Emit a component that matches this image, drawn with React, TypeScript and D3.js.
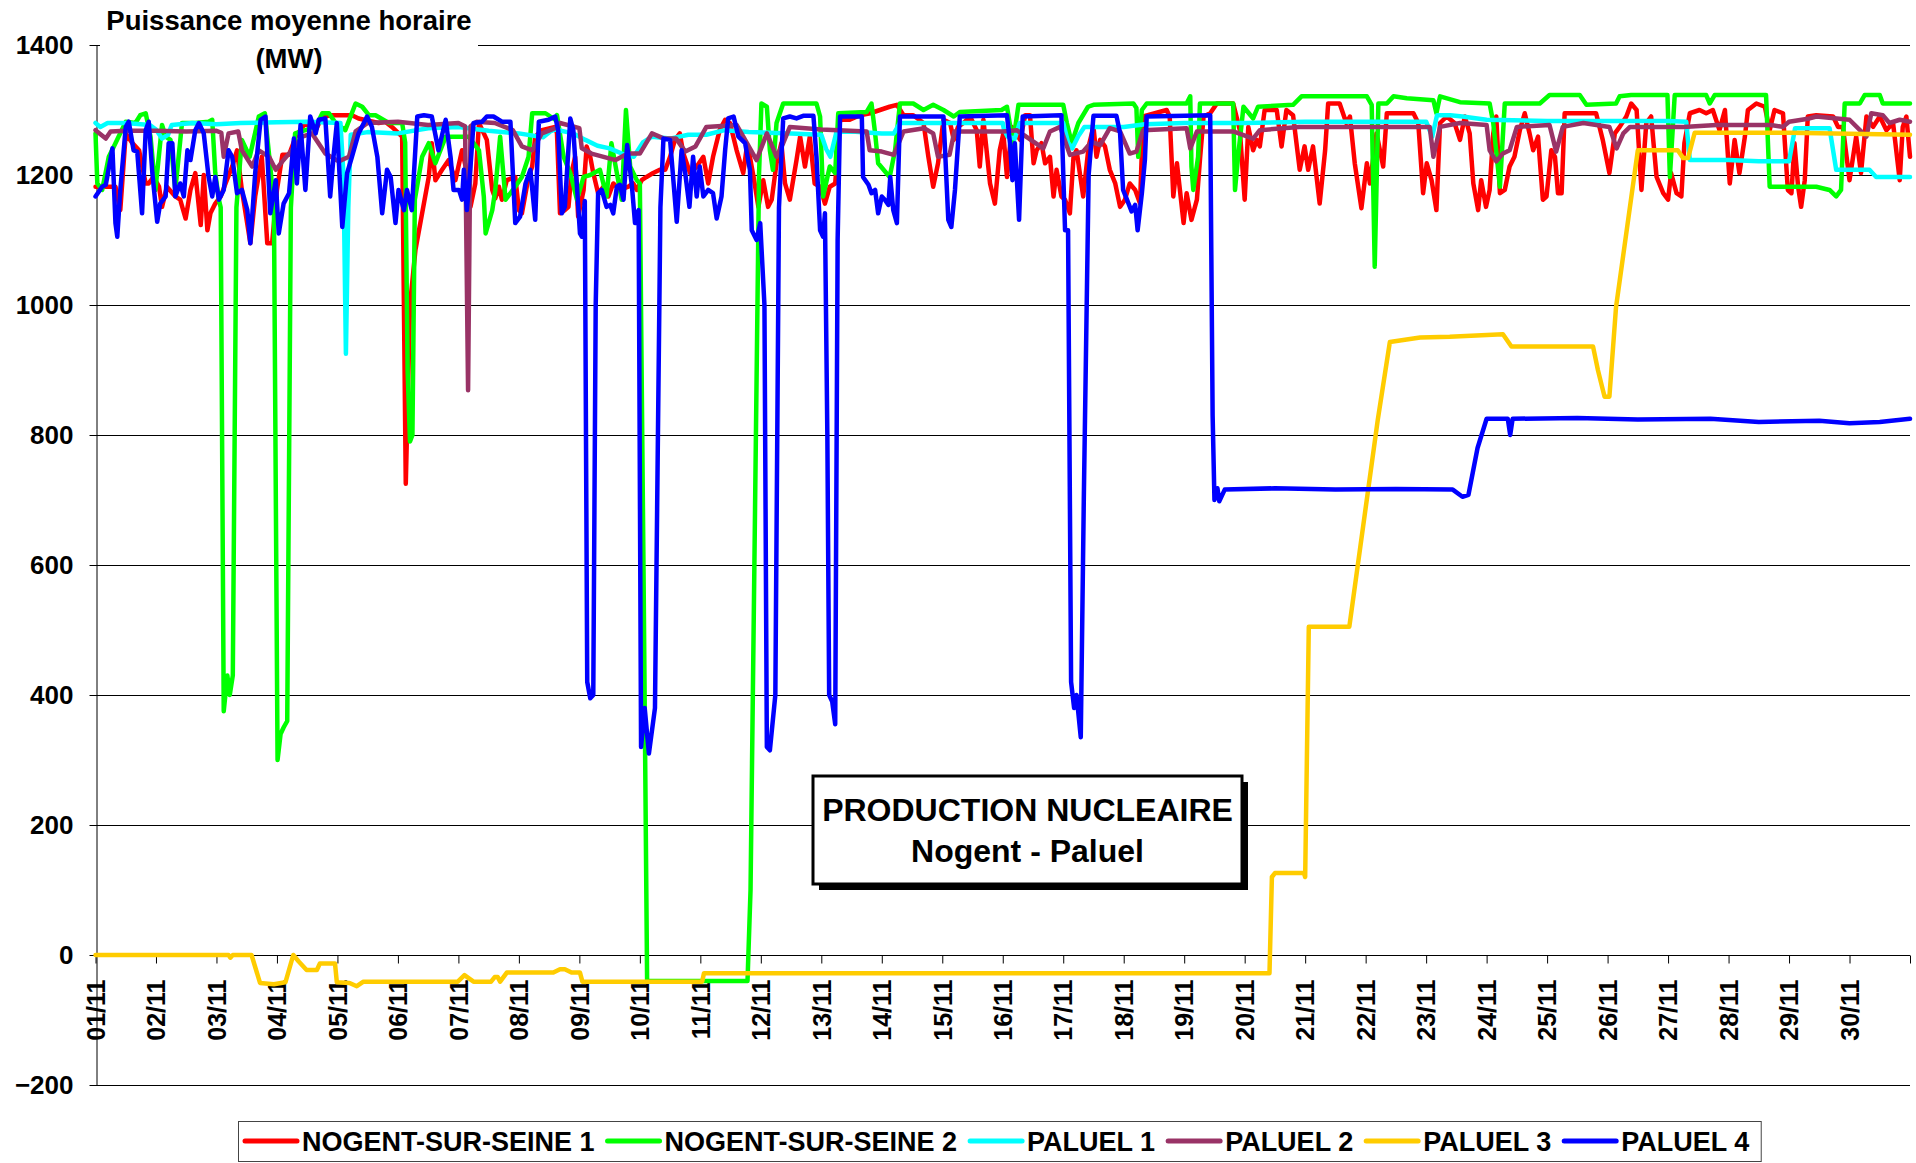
import React, { useEffect, useRef } from 'react';
import * as d3 from 'd3';

type Pt = [number, number];

// day labels (tick at start of each day of November)
const dayLabels = [
  '01/11', '02/11', '03/11', '04/11', '05/11', '06/11', '07/11', '08/11', '09/11', '10/11',
  '11/11', '12/11', '13/11', '14/11', '15/11', '16/11', '17/11', '18/11', '19/11', '20/11',
  '21/11', '22/11', '23/11', '24/11', '25/11', '26/11', '27/11', '28/11', '29/11', '30/11',
];
const yTicks = [-200, 0, 200, 400, 600, 800, 1000, 1200, 1400];

const seriesNames = ['NOGENT-SUR-SEINE 1', 'NOGENT-SUR-SEINE 2', 'PALUEL 1', 'PALUEL 2', 'PALUEL 3', 'PALUEL 4'];
const seriesColors = ['#ff0000', '#00ff00', '#00ffff', '#993366', '#ffcc00', '#0000ff'];

// [day since 01/11 00h, MW]
const nogent1: Pt[] = [
  [0, 1182], [0.11, 1182], [0.33, 1182], [0.41, 1146], [0.5, 1264], [0.61, 1249], [0.72, 1238], [0.83, 1187], [0.88, 1187], [0.96, 1197],
  [1.05, 1182], [1.1, 1151], [1.18, 1182], [1.32, 1167], [1.4, 1162], [1.49, 1133], [1.57, 1177], [1.65, 1203], [1.74, 1123], [1.79, 1200],
  [1.85, 1115], [1.9, 1141], [1.98, 1156], [2.07, 1167], [2.15, 1187], [2.26, 1213], [2.34, 1238], [2.42, 1177], [2.56, 1095], [2.64, 1167],
  [2.75, 1228], [2.84, 1095], [2.92, 1095], [3.0, 1177], [3.09, 1231], [3.2, 1231], [3.31, 1259], [3.47, 1280], [3.64, 1269], [3.75, 1290],
  [3.91, 1292], [4.24, 1292], [4.35, 1287], [4.68, 1280], [4.79, 1282], [4.9, 1274], [5.07, 1259], [5.13, 725], [5.2, 1000], [5.29, 1085],
  [5.51, 1197], [5.56, 1249], [5.62, 1192], [5.73, 1208], [5.84, 1223], [5.95, 1192], [6.06, 1238], [6.12, 1213], [6.2, 1151], [6.28, 1187],
  [6.34, 1280], [6.47, 1254], [6.56, 1177], [6.61, 1164], [6.67, 1182], [6.72, 1162], [6.8, 1192], [6.94, 1197], [7.0, 1146], [7.05, 1141],
  [7.16, 1197], [7.22, 1213], [7.27, 1259], [7.38, 1269], [7.6, 1274], [7.63, 1264], [7.68, 1141], [7.76, 1146], [7.82, 1151], [7.87, 1203],
  [7.93, 1228], [7.98, 1136], [8.07, 1177], [8.12, 1244], [8.18, 1228], [8.23, 1203], [8.31, 1172], [8.4, 1182], [8.48, 1167], [8.56, 1187],
  [8.67, 1177], [8.81, 1182], [8.89, 1187], [8.95, 1177], [9.03, 1192], [9.11, 1197], [9.22, 1203], [9.33, 1208], [9.42, 1208], [9.5, 1228],
  [9.58, 1254], [9.66, 1264], [9.72, 1233], [9.83, 1203], [9.94, 1213], [10.05, 1228], [10.13, 1187], [10.21, 1228], [10.32, 1269], [10.41, 1285],
  [10.49, 1280], [10.6, 1238], [10.71, 1203], [10.77, 1244], [10.82, 1228], [10.88, 1197], [10.96, 1151], [11.04, 1192], [11.12, 1151], [11.18, 1162],
  [11.26, 1218], [11.34, 1249], [11.4, 1187], [11.48, 1162], [11.59, 1223], [11.65, 1259], [11.73, 1213], [11.81, 1259], [11.89, 1187], [11.98, 1182],
  [12.06, 1156], [12.14, 1182], [12.23, 1187], [12.31, 1285], [12.47, 1285], [12.64, 1292], [12.81, 1295], [12.97, 1300], [13.13, 1305], [13.25, 1308],
  [13.36, 1292], [13.52, 1292], [13.69, 1280], [13.77, 1228], [13.85, 1182], [13.93, 1218], [14.02, 1285], [14.13, 1280], [14.19, 1254], [14.26, 1274],
  [14.35, 1280], [14.46, 1290], [14.57, 1269], [14.62, 1213], [14.68, 1285], [14.79, 1187], [14.87, 1156], [14.95, 1238], [15.01, 1264], [15.07, 1197],
  [15.15, 1274], [15.29, 1254], [15.37, 1292], [15.45, 1292], [15.51, 1218], [15.56, 1238], [15.64, 1249], [15.7, 1218], [15.78, 1228], [15.84, 1167],
  [15.89, 1208], [15.97, 1167], [16.03, 1162], [16.11, 1141], [16.17, 1228], [16.22, 1238], [16.33, 1167], [16.42, 1244], [16.5, 1274], [16.55, 1228],
  [16.61, 1254], [16.69, 1244], [16.77, 1208], [16.86, 1187], [16.94, 1151], [17.02, 1162], [17.1, 1187], [17.19, 1177], [17.27, 1156], [17.32, 1290],
  [17.71, 1300], [17.76, 1290], [17.82, 1167], [17.88, 1218], [17.99, 1126], [18.04, 1172], [18.12, 1131], [18.21, 1162], [18.26, 1223], [18.32, 1290],
  [18.43, 1295], [18.54, 1310], [18.81, 1310], [18.92, 1269], [19.0, 1162], [19.06, 1274], [19.14, 1238], [19.2, 1254], [19.25, 1244], [19.33, 1300],
  [19.53, 1300], [19.61, 1244], [19.69, 1300], [19.8, 1292], [19.91, 1208], [19.99, 1244], [20.05, 1208], [20.13, 1244], [20.24, 1156], [20.33, 1238],
  [20.38, 1310], [20.57, 1310], [20.68, 1280], [20.74, 1290], [20.82, 1218], [20.93, 1149], [21.02, 1218], [21.07, 1187], [21.18, 1264], [21.29, 1213],
  [21.35, 1295], [21.79, 1295], [21.87, 1280], [21.95, 1172], [22.01, 1218], [22.09, 1192], [22.17, 1146], [22.23, 1280], [22.34, 1290], [22.47, 1280],
  [22.56, 1254], [22.64, 1290], [22.72, 1264], [22.78, 1187], [22.86, 1146], [22.91, 1192], [22.99, 1151], [23.05, 1177], [23.11, 1264], [23.16, 1290],
  [23.22, 1172], [23.3, 1177], [23.38, 1213], [23.46, 1228], [23.55, 1269], [23.63, 1295], [23.71, 1264], [23.77, 1238], [23.85, 1259], [23.93, 1162],
  [23.99, 1167], [24.07, 1238], [24.13, 1228], [24.18, 1172], [24.24, 1172], [24.29, 1295], [24.81, 1295], [24.92, 1254], [25.03, 1203], [25.12, 1264],
  [25.2, 1274], [25.31, 1290], [25.39, 1310], [25.48, 1300], [25.56, 1177], [25.64, 1280], [25.72, 1290], [25.81, 1197], [25.92, 1172], [26.0, 1162],
  [26.05, 1203], [26.14, 1172], [26.22, 1167], [26.27, 1249], [26.36, 1295], [26.52, 1300], [26.63, 1295], [26.74, 1300], [26.85, 1269], [26.94, 1300],
  [27.02, 1187], [27.1, 1254], [27.18, 1203], [27.27, 1259], [27.32, 1300], [27.46, 1310], [27.6, 1305], [27.68, 1269], [27.76, 1300], [27.9, 1295],
  [27.98, 1177], [28.04, 1172], [28.09, 1249], [28.15, 1182], [28.2, 1151], [28.26, 1192], [28.31, 1290], [28.45, 1292], [28.73, 1290], [28.81, 1274],
  [28.89, 1274], [29.0, 1192], [29.11, 1259], [29.19, 1203], [29.28, 1290], [29.39, 1274], [29.5, 1290], [29.61, 1269], [29.72, 1280], [29.83, 1192],
  [29.88, 1274], [29.94, 1290], [30, 1228],
];

const nogent2: Pt[] = [
  [0, 1264], [0.03, 1187], [0.11, 1177], [0.22, 1228], [0.33, 1249], [0.5, 1282], [0.66, 1280], [0.74, 1292], [0.83, 1295], [0.91, 1259],
  [0.99, 1177], [1.1, 1277], [1.16, 1259], [1.24, 1254], [1.32, 1177], [1.43, 1280], [1.65, 1280], [1.87, 1282], [1.93, 1285], [1.98, 1203],
  [2.04, 1162], [2.07, 1150], [2.12, 375], [2.18, 430], [2.22, 400], [2.27, 430], [2.33, 1150], [2.42, 1254], [2.55, 1228], [2.7, 1290],
  [2.8, 1295], [2.9, 1203], [2.95, 1150], [3.01, 300], [3.06, 340], [3.11, 350], [3.17, 360], [3.23, 1150], [3.3, 1264], [3.47, 1269],
  [3.64, 1274], [3.75, 1295], [3.86, 1295], [3.97, 1280], [4.13, 1269], [4.3, 1310], [4.41, 1305], [4.52, 1292], [4.63, 1292], [4.85, 1280],
  [5.07, 1280], [5.12, 1250], [5.16, 900], [5.2, 790], [5.24, 800], [5.28, 1162], [5.4, 1228], [5.51, 1249], [5.62, 1218], [5.79, 1259],
  [6.06, 1259], [6.17, 1259], [6.34, 1238], [6.42, 1167], [6.45, 1110], [6.56, 1146], [6.61, 1177], [6.69, 1259], [6.78, 1162], [6.94, 1182],
  [7.05, 1197], [7.16, 1228], [7.22, 1295], [7.44, 1295], [7.6, 1285], [7.63, 1292], [7.74, 1228], [7.85, 1203], [7.96, 1162], [8.07, 1197],
  [8.18, 1200], [8.34, 1208], [8.45, 1167], [8.53, 1249], [8.62, 1203], [8.7, 1162], [8.77, 1300], [8.84, 1213], [8.95, 1192], [9.0, 1187],
  [9.06, 600], [9.12, -40], [10.78, -40], [10.83, 100], [10.97, 1200], [11.01, 1310], [11.1, 1305], [11.15, 1238], [11.2, 1208], [11.26, 1280],
  [11.37, 1310], [11.92, 1310], [11.98, 1290], [12.03, 1167], [12.14, 1213], [12.23, 1203], [12.28, 1295], [12.75, 1297], [12.83, 1310], [12.89, 1264],
  [12.94, 1218], [13.03, 1208], [13.13, 1197], [13.22, 1238], [13.3, 1310], [13.52, 1310], [13.69, 1300], [13.85, 1308], [14.02, 1300], [14.19, 1290],
  [14.29, 1297], [14.98, 1300], [15.07, 1305], [15.17, 1249], [15.26, 1308], [16.0, 1308], [16.06, 1280], [16.14, 1249], [16.25, 1280], [16.41, 1305],
  [16.5, 1308], [17.16, 1310], [17.21, 1303], [17.24, 1228], [17.3, 1300], [17.38, 1310], [18.04, 1310], [18.1, 1321], [18.12, 1213], [18.15, 1177],
  [18.23, 1228], [18.26, 1310], [18.81, 1310], [18.84, 1177], [18.89, 1228], [18.98, 1305], [19.14, 1287], [19.22, 1305], [19.8, 1308], [19.94, 1321],
  [21.02, 1321], [21.1, 1308], [21.15, 1059], [21.21, 1310], [21.35, 1310], [21.46, 1321], [21.68, 1318], [22.12, 1315], [22.17, 1295], [22.23, 1321],
  [22.56, 1312], [23.05, 1310], [23.11, 1280], [23.22, 1182], [23.3, 1310], [23.88, 1310], [24.04, 1323], [24.54, 1323], [24.65, 1308], [25.14, 1310],
  [25.2, 1321], [25.39, 1323], [25.99, 1323], [26.03, 1197], [26.11, 1323], [26.63, 1323], [26.69, 1310], [26.77, 1323], [27.62, 1323], [27.68, 1182],
  [28.45, 1182], [28.67, 1177], [28.78, 1167], [28.86, 1177], [28.92, 1310], [29.17, 1310], [29.25, 1323], [29.5, 1323], [29.55, 1310], [30, 1310],
];

const paluel1: Pt[] = [
  [0, 1280], [0.08, 1274], [0.2, 1280], [0.5, 1280], [0.9, 1277], [1.0, 1270], [1.1, 1256], [1.2, 1262], [1.26, 1277], [1.6, 1280],
  [2.0, 1278], [2.4, 1280], [3.0, 1281], [3.5, 1282], [4.05, 1280], [4.1, 1200], [4.14, 925], [4.18, 1150], [4.22, 1262], [4.5, 1266],
  [5.0, 1264], [5.5, 1272], [6.0, 1274], [6.5, 1268], [7.0, 1264], [7.4, 1258], [7.52, 1267], [7.6, 1270], [7.9, 1264], [8.1, 1254],
  [8.3, 1245], [8.5, 1241], [8.7, 1233], [8.9, 1228], [9.05, 1250], [9.2, 1259], [9.5, 1256], [9.8, 1262], [10.1, 1262], [10.4, 1269],
  [10.8, 1266], [11.5, 1264], [12.0, 1262], [12.08, 1240], [12.15, 1228], [12.25, 1266], [12.5, 1267], [13.0, 1264], [13.2, 1264], [13.3, 1280],
  [14.0, 1280], [15.0, 1280], [15.02, 1270], [15.08, 1259], [15.2, 1256], [15.28, 1280], [16.0, 1280], [16.08, 1250], [16.15, 1241], [16.25, 1260],
  [16.35, 1274], [17.0, 1274], [17.35, 1278], [18.0, 1280], [19.0, 1280], [20.0, 1282], [21.0, 1282], [22.0, 1282], [22.1, 1259], [22.18, 1292],
  [22.4, 1292], [22.6, 1290], [23.0, 1285], [24.0, 1283], [25.0, 1283], [26.0, 1283], [26.3, 1282], [26.36, 1223], [27.0, 1223], [27.5, 1221],
  [28.0, 1221], [28.1, 1272], [28.67, 1272], [28.78, 1208], [29.33, 1208], [29.44, 1197], [30, 1197],
];

const paluel2: Pt[] = [
  [0, 1269], [0.17, 1256], [0.25, 1267], [0.5, 1268], [1.0, 1268], [1.5, 1267], [2.0, 1268], [2.08, 1265], [2.12, 1228], [2.2, 1264],
  [2.36, 1267], [2.42, 1238], [2.59, 1213], [2.7, 1238], [2.87, 1228], [2.98, 1208], [3.09, 1221], [3.2, 1233], [3.42, 1259], [3.58, 1264],
  [3.8, 1233], [4.02, 1221], [4.19, 1228], [4.3, 1267], [4.5, 1280], [5.0, 1282], [5.5, 1277], [6.0, 1280], [6.11, 1275], [6.16, 869],
  [6.2, 1275], [6.3, 1282], [6.6, 1280], [6.9, 1269], [7.05, 1244], [7.22, 1238], [7.38, 1264], [7.6, 1272], [7.68, 1280], [8.0, 1272],
  [8.04, 1241], [8.2, 1233], [8.4, 1228], [8.6, 1223], [8.8, 1233], [9.0, 1233], [9.2, 1264], [9.4, 1256], [9.6, 1256], [9.75, 1236],
  [9.92, 1244], [10.1, 1274], [10.6, 1277], [10.93, 1223], [11.1, 1264], [11.26, 1228], [11.37, 1249], [11.48, 1274], [12.0, 1270], [12.75, 1267],
  [12.8, 1238], [13.0, 1236], [13.2, 1231], [13.36, 1267], [13.7, 1272], [13.85, 1264], [13.93, 1228], [14.12, 1231], [14.2, 1267], [15.0, 1267],
  [15.23, 1269], [15.67, 1241], [15.78, 1267], [15.95, 1274], [16.11, 1231], [16.33, 1236], [16.47, 1251], [16.61, 1246], [16.77, 1272], [16.94, 1267],
  [17.1, 1233], [17.21, 1236], [17.32, 1269], [18.04, 1272], [18.1, 1241], [18.21, 1267], [18.81, 1267], [19.14, 1256], [19.25, 1269], [19.9, 1274],
  [22.06, 1274], [22.12, 1228], [22.23, 1274], [22.56, 1280], [23.0, 1277], [23.05, 1238], [23.16, 1221], [23.27, 1233], [23.38, 1238], [23.5, 1274],
  [24.04, 1277], [24.15, 1236], [24.26, 1274], [24.6, 1280], [25.03, 1274], [25.15, 1241], [25.26, 1264], [25.37, 1274], [26.25, 1274], [26.8, 1277],
  [27.7, 1277], [27.9, 1274], [28.0, 1282], [28.34, 1287], [28.45, 1290], [29.0, 1285], [29.28, 1259], [29.36, 1295], [29.55, 1292], [29.66, 1280],
  [29.83, 1285], [30, 1282],
];

const paluel3: Pt[] = [
  [0, 0], [2.2, 0], [2.23, -4], [2.27, 0], [2.58, 0], [2.72, -43], [2.95, -45], [3.14, -42], [3.27, 0], [3.36, -10],
  [3.49, -23], [3.66, -23], [3.71, -13], [3.96, -13], [3.99, -42], [4.2, -43], [4.32, -48], [4.43, -41], [5.99, -41], [6.1, -31],
  [6.25, -41], [6.54, -41], [6.6, -34], [6.65, -34], [6.69, -41], [6.8, -27], [7.57, -27], [7.68, -22], [7.76, -22], [7.87, -27],
  [8.01, -27], [8.05, -41], [10.03, -41], [10.06, -28], [19.41, -28], [19.45, 120], [19.5, 126], [19.98, 126], [20.0, 120], [20.06, 505],
  [20.73, 505], [21.2, 823], [21.4, 943], [21.9, 950], [22.39, 951], [23.27, 955], [23.41, 936], [24.76, 936], [24.84, 900], [24.92, 870],
  [24.95, 859], [25.03, 859], [25.14, 997], [25.5, 1238], [26.16, 1238], [26.25, 1226], [26.33, 1226], [26.44, 1265], [28, 1265], [30, 1262],
];

const paluel4: Pt[] = [
  [0, 1167], [0.11, 1182], [0.17, 1185], [0.28, 1241], [0.33, 1126], [0.36, 1105], [0.41, 1177], [0.5, 1274], [0.55, 1282], [0.63, 1238],
  [0.69, 1236], [0.77, 1141], [0.83, 1269], [0.88, 1282], [0.94, 1203], [1.02, 1128], [1.07, 1156], [1.16, 1167], [1.21, 1249], [1.27, 1249],
  [1.32, 1167], [1.4, 1187], [1.46, 1167], [1.52, 1238], [1.57, 1223], [1.65, 1269], [1.71, 1280], [1.79, 1264], [1.87, 1197], [1.93, 1167],
  [1.98, 1197], [2.04, 1162], [2.12, 1177], [2.2, 1238], [2.26, 1228], [2.34, 1172], [2.42, 1177], [2.51, 1146], [2.56, 1095], [2.64, 1203],
  [2.73, 1285], [2.81, 1290], [2.89, 1141], [2.98, 1192], [3.03, 1110], [3.11, 1156], [3.2, 1172], [3.28, 1256], [3.33, 1187], [3.39, 1277],
  [3.47, 1177], [3.55, 1290], [3.64, 1264], [3.69, 1285], [3.8, 1287], [3.88, 1167], [3.94, 1233], [3.99, 1280], [4.08, 1120], [4.16, 1203],
  [4.24, 1228], [4.35, 1264], [4.49, 1290], [4.57, 1274], [4.66, 1228], [4.74, 1141], [4.82, 1208], [4.88, 1197], [4.96, 1126], [5.01, 1177],
  [5.1, 1146], [5.15, 1177], [5.23, 1146], [5.32, 1290], [5.43, 1292], [5.56, 1290], [5.67, 1238], [5.79, 1285], [5.87, 1228], [5.92, 1177],
  [6.01, 1177], [6.06, 1162], [6.09, 1208], [6.14, 1146], [6.2, 1213], [6.25, 1280], [6.39, 1282], [6.47, 1290], [6.58, 1290], [6.72, 1282],
  [6.86, 1282], [6.94, 1126], [7.02, 1136], [7.11, 1187], [7.19, 1208], [7.27, 1131], [7.33, 1282], [7.49, 1285], [7.6, 1290], [7.65, 1269],
  [7.71, 1141], [7.76, 1151], [7.85, 1287], [7.9, 1269], [8.01, 1110], [8.04, 1105], [8.09, 1160], [8.13, 420], [8.18, 395], [8.23, 400],
  [8.27, 1000], [8.31, 1172], [8.37, 1177], [8.45, 1151], [8.51, 1154], [8.56, 1141], [8.62, 1182], [8.67, 1185], [8.73, 1162], [8.79, 1246],
  [8.87, 1182], [8.92, 1126], [8.98, 1146], [9.02, 320], [9.08, 380], [9.15, 310], [9.25, 380], [9.34, 1150], [9.39, 1256], [9.5, 1254],
  [9.61, 1128], [9.69, 1238], [9.75, 1203], [9.82, 1151], [9.88, 1228], [9.94, 1167], [9.99, 1213], [10.05, 1167], [10.13, 1177], [10.21, 1172],
  [10.27, 1133], [10.35, 1167], [10.41, 1238], [10.46, 1287], [10.55, 1290], [10.63, 1259], [10.74, 1249], [10.82, 1208], [10.85, 1115], [10.93, 1100],
  [10.99, 1126], [11.06, 1000], [11.1, 320], [11.15, 315], [11.24, 400], [11.3, 1150], [11.37, 1287], [11.48, 1290], [11.59, 1287], [11.7, 1291],
  [11.87, 1291], [11.92, 1228], [11.98, 1115], [12.03, 1105], [12.06, 1141], [12.1, 800], [12.13, 400], [12.18, 390], [12.23, 355], [12.27, 1100],
  [12.31, 1290], [12.67, 1290], [12.69, 1197], [12.78, 1185], [12.83, 1172], [12.89, 1177], [12.94, 1141], [13.0, 1167], [13.05, 1162], [13.11, 1154],
  [13.14, 1197], [13.19, 1146], [13.25, 1126], [13.3, 1290], [14.02, 1290], [14.1, 1131], [14.15, 1120], [14.21, 1177], [14.29, 1290], [15.07, 1292],
  [15.12, 1249], [15.16, 1192], [15.2, 1249], [15.27, 1131], [15.33, 1290], [15.97, 1292], [16.03, 1115], [16.08, 1115], [16.13, 420], [16.18, 380],
  [16.22, 400], [16.29, 335], [16.34, 700], [16.42, 1200], [16.5, 1291], [16.88, 1291], [16.94, 1264], [16.99, 1177], [17.08, 1156], [17.13, 1144],
  [17.19, 1154], [17.23, 1115], [17.3, 1172], [17.35, 1223], [17.38, 1290], [18.43, 1292], [18.47, 830], [18.5, 700], [18.55, 718], [18.58, 698],
  [18.67, 716], [19.5, 718], [20.5, 716], [21.5, 717], [22.44, 716], [22.6, 705], [22.7, 708], [22.85, 780], [23.0, 825], [23.35, 825],
  [23.39, 800], [23.43, 825], [24.5, 826], [25.5, 824], [26.7, 825], [27.5, 820], [28.5, 822], [29.0, 818], [29.5, 820], [30, 825],
];

const seriesData: Pt[][] = [nogent1, nogent2, paluel1, paluel2, paluel3, paluel4];

const FONT = '"Liberation Sans", Arial, Helvetica, sans-serif';

export default function App() {
  const ref = useRef<SVGSVGElement>(null);

  useEffect(() => {
    const svg = d3.select(ref.current);
    svg.selectAll('*').remove();

    const x = d3.scaleLinear().domain([0, 30]).range([95.5, 1910]);
    const y = d3.scaleLinear().domain([-200, 1400]).range([1085, 45]);

    // horizontal gridlines
    svg.append('g')
      .selectAll('line')
      .data(yTicks)
      .join('line')
      .attr('x1', x(0))
      .attr('x2', x(30))
      .attr('y1', d => Math.round(y(d)) + 0.5)
      .attr('y2', d => Math.round(y(d)) + 0.5)
      .attr('stroke', '#000')
      .attr('stroke-width', 1);

    // y axis
    const yAxis = svg.append('g')
      .attr('transform', `translate(${Math.round(x(0)) + 0.5},0)`)
      .call(d3.axisLeft(y).tickValues(yTicks).tickSize(7).tickSizeOuter(0).tickPadding(16).tickFormat(d3.format('d')));
    yAxis.select('.domain').attr('stroke', '#000');
    yAxis.selectAll('line').attr('stroke', '#000');
    yAxis.selectAll('text')
      .attr('font-family', FONT)
      .attr('font-size', 26)
      .attr('font-weight', 'bold')
      .attr('fill', '#000');

    // x axis on the zero line
    const xAxis = svg.append('g')
      .attr('transform', `translate(0,${Math.round(y(0)) + 0.5})`)
      .call(
        d3.axisBottom(x)
          .tickValues(d3.range(0, 31))
          .tickSize(8)
          .tickSizeOuter(0)
          .tickFormat(d => dayLabels[d as number] ?? '')
      );
    xAxis.select('.domain').remove();
    xAxis.selectAll('line').attr('stroke', '#000');
    xAxis.selectAll('text')
      .attr('font-family', FONT)
      .attr('font-size', 25)
      .attr('font-weight', 'bold')
      .attr('fill', '#000')
      .attr('text-anchor', 'end')
      .attr('transform', 'rotate(-90)')
      .attr('x', -24)
      .attr('y', 0)
      .attr('dy', '0.35em');

    // series
    const line = d3.line<Pt>().x(d => x(d[0])).y(d => y(d[1]));
    svg.append('g')
      .selectAll('path')
      .data(seriesData)
      .join('path')
      .attr('d', d => line(d))
      .attr('fill', 'none')
      .attr('stroke', (_, i) => seriesColors[i])
      .attr('stroke-width', 4.5)
      .attr('stroke-linejoin', 'round')
      .attr('stroke-linecap', 'round');

    // axis title (white box over the top gridline)
    svg.append('rect').attr('x', 100).attr('y', 0).attr('width', 378).attr('height', 76).attr('fill', '#fff');
    const title = svg.append('text')
      .attr('font-family', FONT)
      .attr('font-size', 27.5)
      .attr('font-weight', 'bold')
      .attr('text-anchor', 'middle');
    title.append('tspan').attr('x', 289).attr('y', 30).text('Puissance moyenne horaire');
    title.append('tspan').attr('x', 289).attr('y', 68).text('(MW)');

    // text box
    const bx = 813, by = 776, bw = 429, bh = 108;
    svg.append('rect').attr('x', bx + 6).attr('y', by + 6).attr('width', bw).attr('height', bh).attr('fill', '#000');
    svg.append('rect').attr('x', bx).attr('y', by).attr('width', bw).attr('height', bh)
      .attr('fill', '#fff').attr('stroke', '#000').attr('stroke-width', 3);
    const box = svg.append('text')
      .attr('font-family', FONT)
      .attr('font-size', 32)
      .attr('font-weight', 'bold')
      .attr('text-anchor', 'middle');
    box.append('tspan').attr('x', bx + bw / 2).attr('y', 821).text('PRODUCTION NUCLEAIRE');
    box.append('tspan').attr('x', bx + bw / 2).attr('y', 862).text('Nogent - Paluel');

    // legend
    const lg = svg.append('g');
    const frame = lg.append('rect')
      .attr('x', 238.5).attr('y', 1121.5).attr('height', 40)
      .attr('fill', '#fff').attr('stroke', '#444').attr('stroke-width', 1);
    let cx = 245;
    seriesNames.forEach((name, i) => {
      lg.append('line')
        .attr('x1', cx).attr('x2', cx + 52)
        .attr('y1', 1141).attr('y2', 1141)
        .attr('stroke', seriesColors[i]).attr('stroke-width', 5).attr('stroke-linecap', 'round');
      const t = lg.append('text')
        .attr('x', cx + 57).attr('y', 1151)
        .attr('font-family', FONT)
        .attr('font-size', 27)
        .attr('font-weight', 'bold')
        .text(name);
      const w = (t.node() as SVGTextElement).getComputedTextLength();
      cx = cx + 57 + w + (i < seriesNames.length - 1 ? 13 : 0);
    });
    frame.attr('width', cx + 12 - 238.5);
  }, []);

  return (
    <svg
      ref={ref}
      width={1916}
      height={1163}
      style={{ position: 'absolute', left: 0, top: 0, background: '#fff' }}
    />
  );
}
